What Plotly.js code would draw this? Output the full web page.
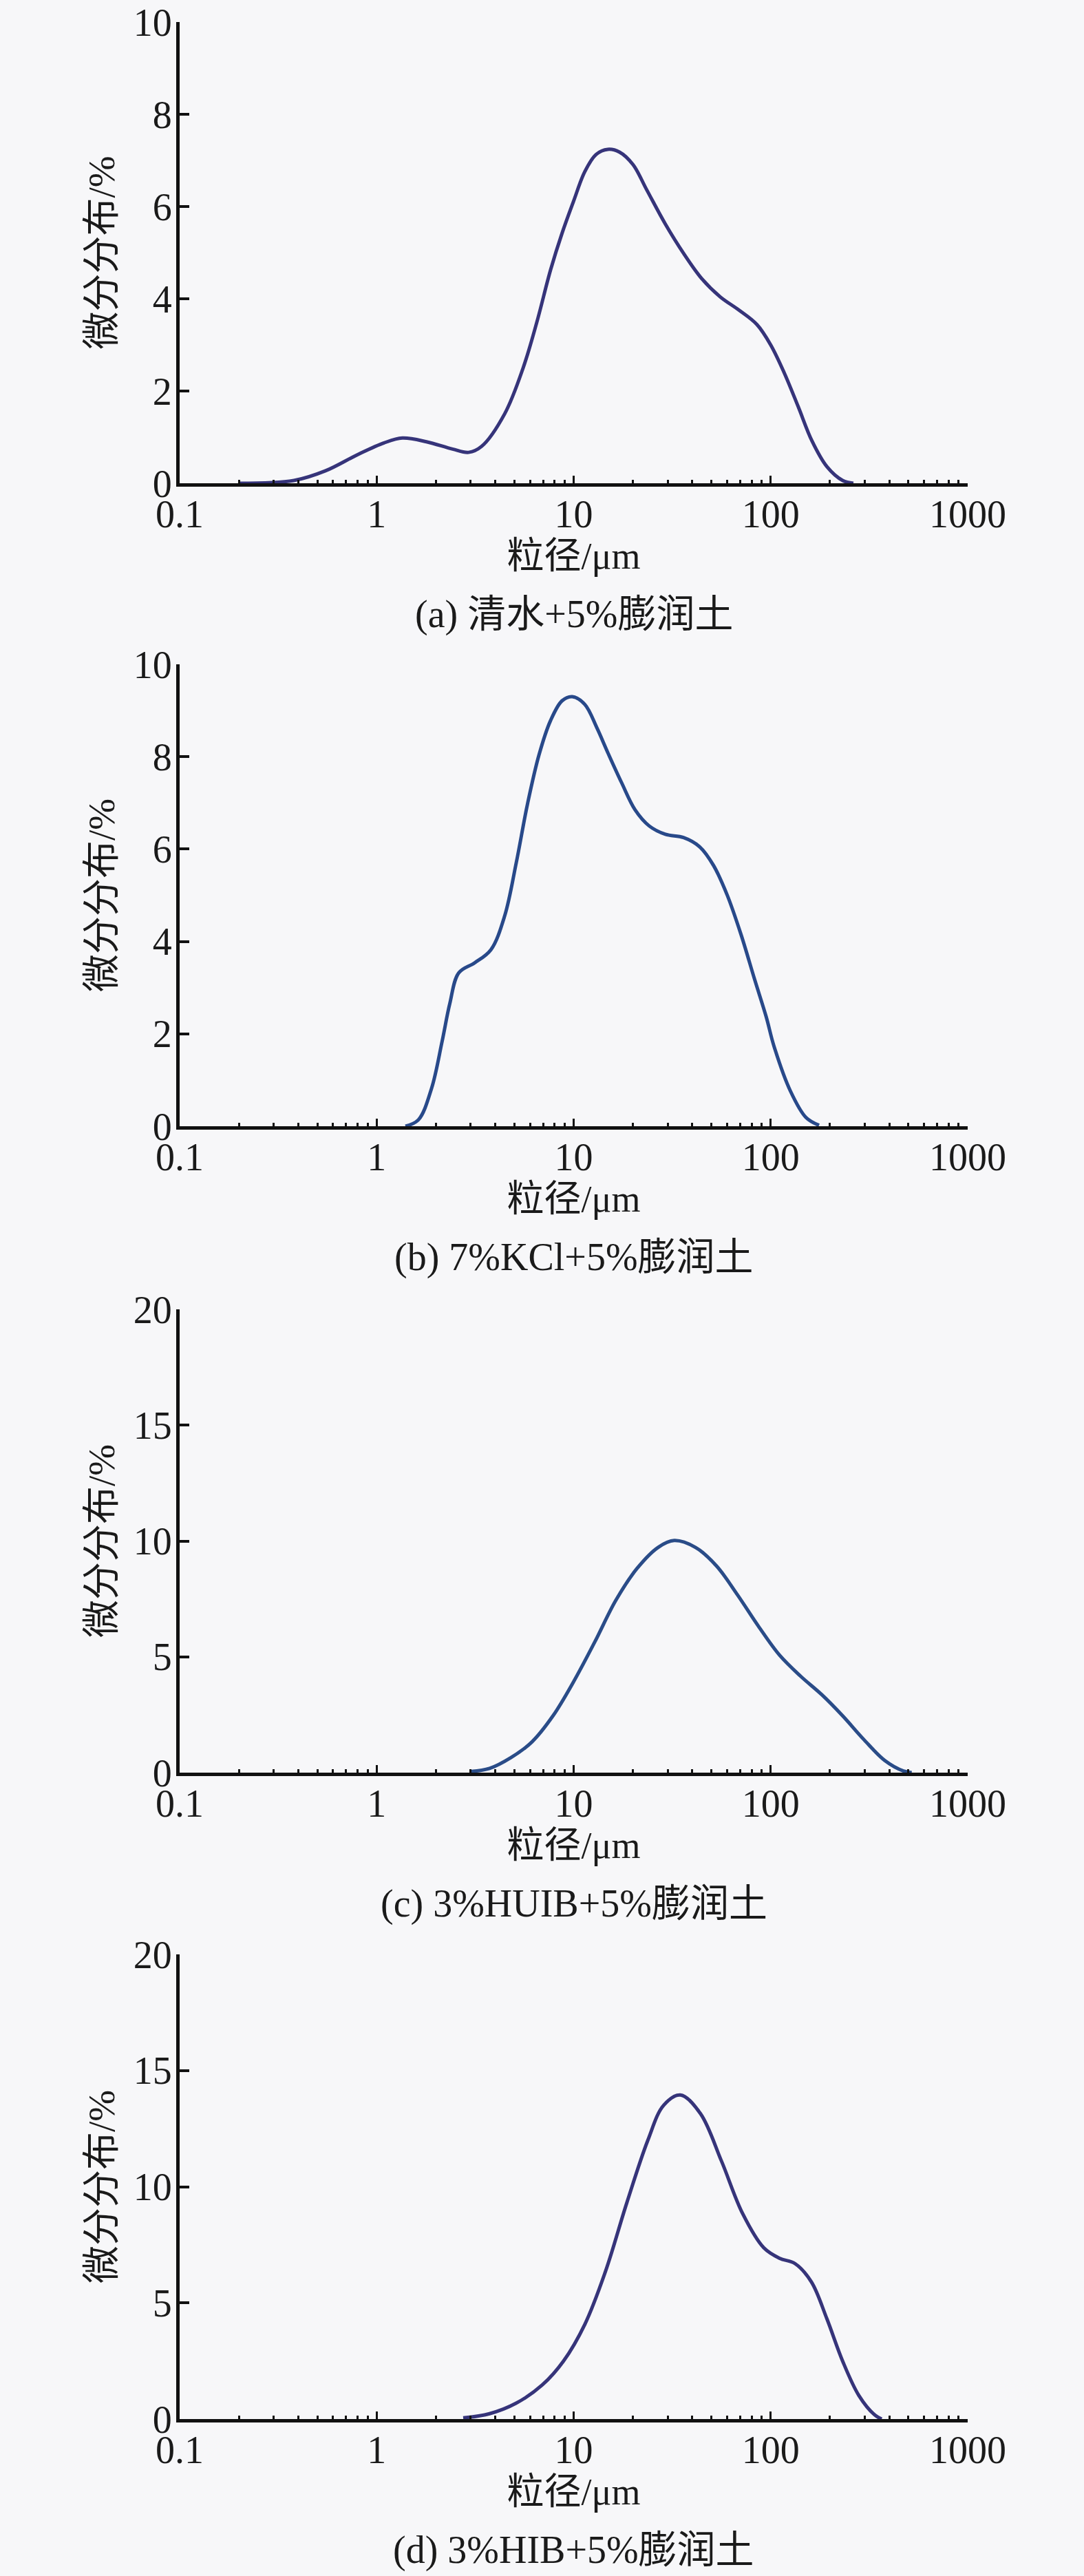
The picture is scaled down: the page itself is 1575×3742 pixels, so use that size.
<!DOCTYPE html>
<html>
<head>
<meta charset="utf-8">
<script src="https://cdn.plot.ly/plotly-3.0.1.min.js"></script>
<style>
  html, body { margin: 0; padding: 0; background: #f7f7f9; }
  #chart { width: 1575px; height: 3742px; }
</style>
</head>
<body>
<div id="chart"></div>
<script>
// particle size (um) and differential distribution (%)
let sizeA = [0.2, 0.38, 0.55, 0.8, 1.09, 1.35, 1.79, 2.43, 2.93, 3.41, 4.47, 5.54, 6.5, 7.64, 8.73, 9.98, 11.4, 13.0, 14.9, 17.1, 20.0, 23.5, 29.2, 36.2, 44.8, 55.5, 68.7, 85.2, 100, 117, 138, 162, 193, 232, 263];
let valueA = [0, 0.06, 0.27, 0.62, 0.875, 0.98, 0.9, 0.74, 0.67, 0.8, 1.51, 2.5, 3.49, 4.63, 5.42, 6.11, 6.76, 7.13, 7.24, 7.18, 6.91, 6.36, 5.62, 4.98, 4.43, 4.04, 3.76, 3.44, 3.0, 2.4, 1.66, 0.92, 0.36, 0.06, 0];

let sizeB = [1.4, 1.63, 1.9, 2.15, 2.35, 2.61, 3.15, 3.8, 4.47, 5.11, 5.84, 6.67, 7.63, 8.73, 9.84, 11.4, 13.1, 14.9, 17.5, 20.5, 24.2, 29.2, 36.1, 43.6, 51.2, 60.1, 70.6, 83.0, 94.9, 104, 126, 151, 176];
let valueB = [0, 0.14, 0.82, 1.84, 2.65, 3.32, 3.54, 3.82, 4.56, 5.7, 6.99, 8.04, 8.78, 9.21, 9.3, 9.13, 8.63, 8.09, 7.44, 6.85, 6.5, 6.32, 6.25, 6.05, 5.65, 5.01, 4.16, 3.17, 2.37, 1.73, 0.76, 0.19, 0.02];

let sizeC = [3.02, 3.74, 4.79, 6.13, 7.85, 10.0, 12.8, 16.4, 21.0, 26.9, 32.4, 41.4, 53.0, 67.8, 86.7, 111, 142, 182, 232, 297, 380, 472, 520];
let valueC = [0.05, 0.18, 0.64, 1.32, 2.45, 3.93, 5.64, 7.45, 8.82, 9.73, 10.02, 9.73, 8.93, 7.68, 6.32, 5.07, 4.16, 3.36, 2.45, 1.43, 0.52, 0.07, 0];

let sizeD = [2.75, 3.74, 5.1, 6.93, 8.87, 11.4, 14.5, 18.6, 23.8, 28.6, 34.8, 44.0, 56.3, 72.1, 92.3, 111, 133, 161, 193, 232, 280, 337, 366];
let valueD = [0.05, 0.23, 0.68, 1.47, 2.49, 4.08, 6.35, 9.3, 12.0, 13.5, 13.95, 13.15, 11.1, 8.84, 7.37, 6.92, 6.69, 5.9, 4.31, 2.49, 1.02, 0.18, 0];

let captions = ['(a) 清水+5%膨润土', '(b) 7%KCl+5%膨润土', '(c) 3%HUIB+5%膨润土', '(d) 3%HIB+5%膨润土'];
let yMax = [10, 10, 20, 20];
let yStep = [2, 2, 5, 5];
let xTicks = [0.1, 1, 10, 100, 1000];
let xTickText = ['0.1', '1', '10', '100', '1000'];

let W = 1575;
let H = 3742;
let plotLeft = 261;
let plotRight = 1406;
let panelTop = [32, 965, 1902, 2839];
let panelBottom = [702, 1636, 2575, 3514];
let lineColors = ['#36347a', '#28498a', '#2a4c88', '#36347a'];

let fontFamily = '"Liberation Serif", "Times New Roman", "Noto Sans CJK SC", serif';

let minorTicks = [];
[0.1, 1, 10, 100].forEach(function (d) {
    for (let k = 2; k <= 9; k++) {
        minorTicks.push(Math.round(k * d * 10) / 10);
    }
});

let sizes = [sizeA, sizeB, sizeC, sizeD];
let values = [valueA, valueB, valueC, valueD];

let traces = [];
let layout = {
    width: W,
    height: H,
    margin: { l: 0, r: 0, t: 0, b: 0 },
    paper_bgcolor: '#f7f7f9',
    plot_bgcolor: '#f7f7f9',
    showlegend: false,
    font: { family: fontFamily, color: '#1a1a1a', size: 56 },
    annotations: []
};

for (let i = 0; i < 4; i++) {
    let n = i === 0 ? '' : String(i + 1);
    traces.push({
        x: sizes[i],
        y: values[i],
        xaxis: 'x' + n,
        yaxis: 'y' + n,
        type: 'scatter',
        mode: 'lines',
        line: { color: lineColors[i], width: 5, shape: 'spline', smoothing: 1 },
        hoverinfo: 'skip'
    });

    layout['xaxis' + n] = {
        type: 'log',
        range: [-1, 3],
        domain: [plotLeft / W, plotRight / W],
        anchor: 'y' + n,
        showline: true,
        linecolor: '#111',
        linewidth: 5,
        showgrid: false,
        zeroline: false,
        ticks: 'inside',
        ticklen: 11,
        tickwidth: 3,
        tickcolor: '#111',
        tickmode: 'array',
        tickvals: xTicks,
        ticktext: xTickText,
        ticklabelstandoff: -8,
        tickfont: { size: 56, family: fontFamily },
        minor: { tickmode: 'array', tickvals: minorTicks, ticks: 'inside', ticklen: 5, tickwidth: 3, tickcolor: '#111', showgrid: false },
        title: { text: '粒径/μm', font: { size: 54, family: fontFamily }, standoff: 2 }
    };

    layout['yaxis' + n] = {
        range: [0, yMax[i]],
        domain: [1 - panelBottom[i] / H, 1 - panelTop[i] / H],
        anchor: 'x' + n,
        showline: true,
        linecolor: '#111',
        linewidth: 5,
        showgrid: false,
        zeroline: false,
        ticks: 'inside',
        ticklen: 14,
        tickwidth: 4,
        tickcolor: '#111',
        dtick: yStep[i],
        tick0: 0,
        ticklabeloverflow: 'allow',
        ticklabelstandoff: -5,
        tickfont: { size: 56, family: fontFamily },
        title: { text: '微分分布/%', font: { size: 55, family: fontFamily }, standoff: 11 }
    };

    layout.annotations.push({
        text: captions[i],
        xref: 'paper',
        yref: 'paper',
        x: (plotLeft + plotRight) / 2 / W,
        y: 1 - (panelBottom[i] + 190) / H,
        xanchor: 'center',
        yanchor: 'middle',
        showarrow: false,
        font: { size: 56, family: fontFamily, color: '#1a1a1a' }
    });
}

Plotly.newPlot('chart', traces, layout, { staticPlot: true });
</script>
</body>
</html>
